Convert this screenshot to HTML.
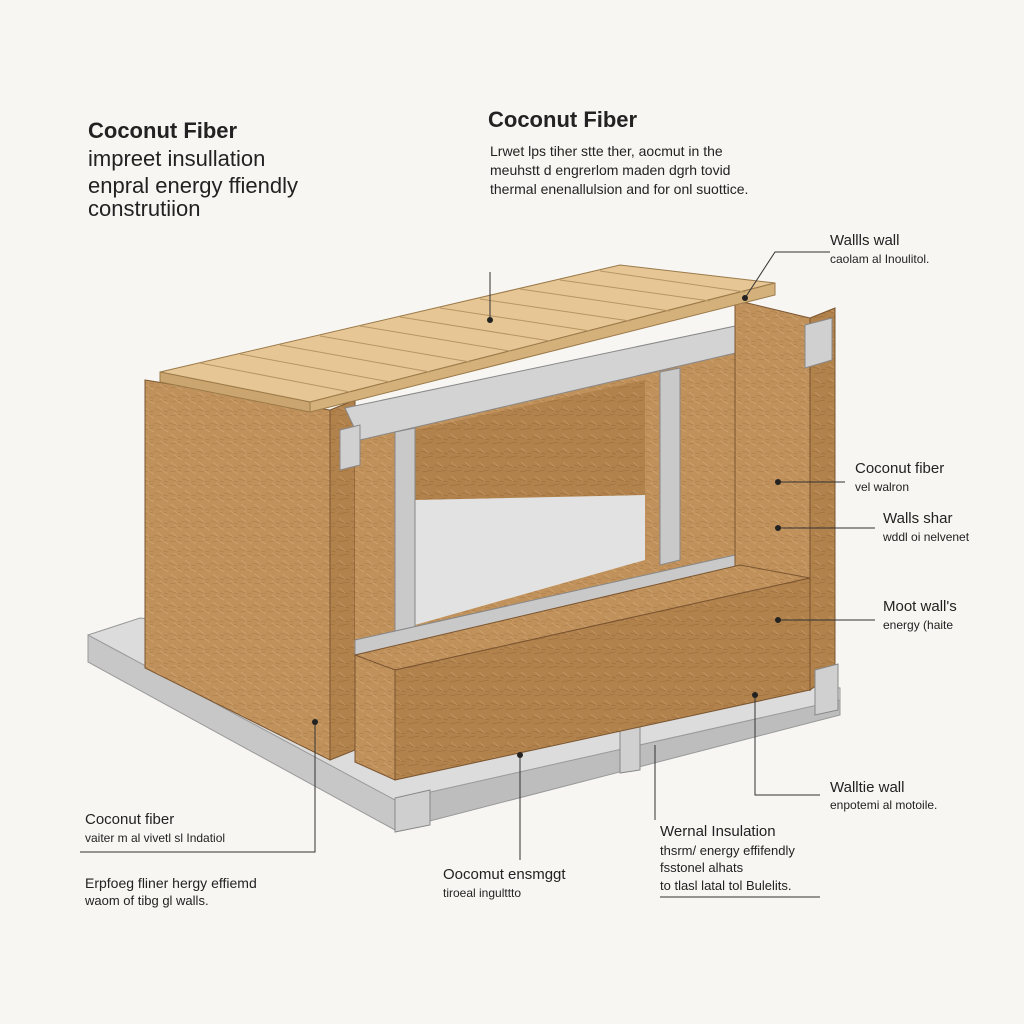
<!DOCTYPE html>
<html><head><meta charset="utf-8"><style>
html,body{margin:0;padding:0;background:#f7f6f3;}
svg{display:block}
text{font-family:"Liberation Sans",sans-serif;fill:#222}
</style></head><body>
<svg width="1024" height="1024" viewBox="0 0 1024 1024" xmlns="http://www.w3.org/2000/svg">
<defs>
<pattern id="fib" width="14" height="14" patternUnits="userSpaceOnUse">
<rect width="14" height="14" fill="#c0915b"/>
<path d="M0 3 L14 6 M2 10 L13 8" stroke="#a87a45" stroke-width="0.6"/>
<path d="M3 0 L9 5 M6 7 L14 12" stroke="#d4aa78" stroke-width="0.6"/>
</pattern>
<pattern id="fib2" width="14" height="14" patternUnits="userSpaceOnUse">
<rect width="14" height="14" fill="#b2824c"/>
<path d="M0 3 L14 6 M2 10 L13 8" stroke="#98693a" stroke-width="0.6"/>
<path d="M3 0 L9 5" stroke="#c99c68" stroke-width="0.6"/>
</pattern>
</defs>
<rect width="1024" height="1024" fill="#f7f6f3"/>

<polygon points="88,635 140,618 840,688 840,705 400,805 88,640" fill="#dcdcdc" stroke="#999" stroke-width="1"/>
<polygon points="88,635 395,800 395,830 88,662" fill="#c7c7c7" stroke="#999"/>
<polygon points="395,800 840,700 840,715 395,830" fill="#bdbdbd" stroke="#999"/>
<polygon points="395,798 430,790 430,825 395,832" fill="#cfcfcf" stroke="#888"/>
<polygon points="620,730 640,726 640,770 620,773" fill="#d0d0d0" stroke="#888"/>

<polygon points="145,380 330,410 330,760 145,668" fill="url(#fib)" stroke="#7a5530"/>
<polygon points="330,410 355,400 355,750 330,760" fill="url(#fib2)" stroke="#7a5530"/>

<polygon points="355,420 735,340 735,590 355,660" fill="url(#fib)"/>
<polygon points="415,430 645,380 645,495 415,500" fill="url(#fib2)"/>
<polygon points="415,500 645,495 645,560 415,625" fill="#e2e2e2"/>
<polygon points="680,370 735,360 735,560 680,565" fill="url(#fib)"/>

<polygon points="395,432 415,428 415,635 395,640" fill="#c9c9c9" stroke="#888"/>
<polygon points="660,372 680,368 680,560 660,565" fill="#c9c9c9" stroke="#888"/>
<polygon points="355,640 735,555 735,570 355,655" fill="#c9c9c9" stroke="#888"/>

<polygon points="345,408 740,325 740,352 360,440" fill="#d3d3d3" stroke="#888"/>

<polygon points="735,300 810,318 810,690 735,590" fill="url(#fib)" stroke="#7a5530"/>
<polygon points="810,318 835,308 835,672 810,690" fill="url(#fib2)" stroke="#7a5530"/>
<polygon points="805,325 832,318 832,360 805,368" fill="#d0d0d0" stroke="#888"/>
<polygon points="815,670 838,664 838,710 815,715" fill="#d0d0d0" stroke="#888"/>

<polygon points="355,655 740,565 810,578 395,670" fill="url(#fib)" stroke="#7a5530"/>
<polygon points="395,670 810,578 810,690 395,780" fill="url(#fib2)" stroke="#7a5530"/>
<polygon points="355,655 395,670 395,780 355,762" fill="url(#fib)" stroke="#7a5530"/>
<polygon points="340,430 360,425 360,465 340,470" fill="#d0d0d0" stroke="#888"/>

<polygon points="160,372 620,265 775,283 310,402" fill="#e6c694" stroke="#9b7a4a"/>
<polygon points="160,372 310,402 310,412 160,382" fill="#caa56f" stroke="#9b7a4a"/>
<polygon points="310,402 775,283 775,295 310,412" fill="#d4b07a" stroke="#9b7a4a"/>
<g stroke="#b89564" stroke-width="1">
<line x1="200" y1="363" x2="350" y2="392"/><line x1="240" y1="354" x2="390" y2="382"/>
<line x1="280" y1="345" x2="430" y2="372"/><line x1="320" y1="336" x2="470" y2="362"/>
<line x1="360" y1="326" x2="510" y2="351"/><line x1="400" y1="317" x2="550" y2="341"/>
<line x1="440" y1="308" x2="590" y2="331"/><line x1="480" y1="299" x2="630" y2="321"/>
<line x1="520" y1="289" x2="670" y2="311"/><line x1="560" y1="280" x2="710" y2="301"/>
<line x1="600" y1="271" x2="745" y2="292"/>
</g>

<g stroke="#333" stroke-width="1" fill="none">
<path d="M490 272 L490 320"/>
<path d="M745 298 L775 252 L830 252"/>
<path d="M778 482 L845 482"/>
<path d="M778 528 L875 528"/>
<path d="M778 620 L875 620"/>
<path d="M755 695 L755 795 L820 795"/>
<path d="M315 722 L315 852 L80 852"/>
<path d="M520 755 L520 860"/>
<path d="M655 745 L655 820"/>
<path d="M660 897 L820 897"/>
</g>
<g fill="#222">
<circle cx="490" cy="320" r="3"/><circle cx="745" cy="298" r="3"/>
<circle cx="778" cy="482" r="3"/><circle cx="778" cy="528" r="3"/>
<circle cx="778" cy="620" r="3"/><circle cx="755" cy="695" r="3"/>
<circle cx="315" cy="722" r="3"/><circle cx="520" cy="755" r="3"/>
</g>

<text x="88" y="138" font-size="22" font-weight="bold">Coconut Fiber</text>
<text x="88" y="166" font-size="22">impreet insullation</text>
<text x="88" y="193" font-size="22">enpral energy ffiendly</text>
<text x="88" y="216" font-size="22">construtiion</text>

<text x="488" y="127" font-size="22" font-weight="bold">Coconut Fiber</text>
<text x="490" y="156" font-size="14" fill="#444">Lrwet lps tiher stte ther, aocmut in the</text>
<text x="490" y="175" font-size="14" fill="#444">meuhstt d engrerlom maden dgrh tovid</text>
<text x="490" y="194" font-size="14" fill="#444">thermal enenallulsion and for onl suottice.</text>

<text x="830" y="245" font-size="15">Wallls wall</text>
<text x="830" y="263" font-size="12" fill="#444">caolam al Inoulitol.</text>
<text x="855" y="473" font-size="15">Coconut fiber</text>
<text x="855" y="491" font-size="12" fill="#444">vel walron</text>
<text x="883" y="523" font-size="15">Walls shar</text>
<text x="883" y="541" font-size="12" fill="#444">wddl oi nelvenet</text>
<text x="883" y="611" font-size="15">Moot wall's</text>
<text x="883" y="629" font-size="12" fill="#444">energy (haite</text>
<text x="830" y="792" font-size="15">Walltie wall</text>
<text x="830" y="809" font-size="12" fill="#444">enpotemi al motoile.</text>

<text x="85" y="824" font-size="15">Coconut fiber</text>
<text x="85" y="842" font-size="12" fill="#444">vaiter m al vivetl sl Indatiol</text>
<text x="85" y="888" font-size="14">Erpfoeg fliner hergy effiemd</text>
<text x="85" y="905" font-size="13" fill="#444">waom of tibg gl walls.</text>

<text x="443" y="879" font-size="15">Oocomut ensmggt</text>
<text x="443" y="897" font-size="12" fill="#444">tiroeal ingulttto</text>

<text x="660" y="836" font-size="15">Wernal Insulation</text>
<text x="660" y="855" font-size="13" fill="#444">thsrm/ energy effifendly</text>
<text x="660" y="872" font-size="13" fill="#444">fsstonel alhats</text>
<text x="660" y="890" font-size="13" fill="#444">to tlasl latal tol Bulelits.</text>
</svg>
</body></html>
